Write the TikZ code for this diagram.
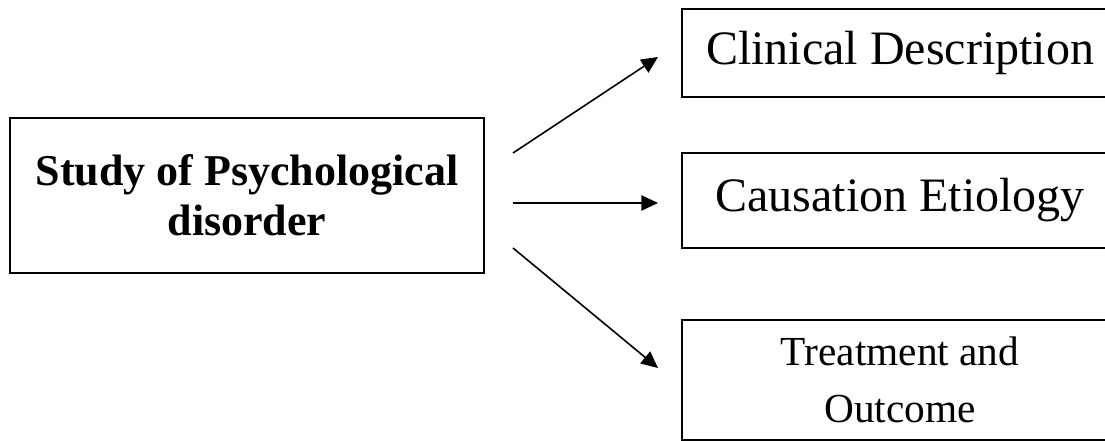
\documentclass[tikz,border=0pt]{standalone}
\usepackage{fontspec}
\setmainfont{Liberation Serif}
\usetikzlibrary{arrows.meta}
\begin{document}
\begin{tikzpicture}[x=0.75pt,y=-0.75pt,
  box/.style={draw=black,line width=1.2pt,inner sep=0pt,align=center,rectangle},
  conn/.style={line width=1.2pt,-{Triangle[length=12.5pt,width=11.5pt]}}]
\useasboundingbox (0,0) rectangle (1105,441);
\clip (0,0) rectangle (1105,441);
\node[box,minimum width=355.5pt,minimum height=116.25pt,font=\fontsize{33}{37.5}\selectfont\bfseries] (study) at (247,195.5) {Study of Psychological\\disorder};
\node[box,minimum width=327pt,minimum height=66pt,font=\fontsize{36}{40}\selectfont] (clin) at (900,53) {Clinical Description};
\node[box,minimum width=327pt,minimum height=71.25pt,font=\fontsize{36}{40}\selectfont] (caus) at (900,200.5) {Causation Etiology};
\node[box,minimum width=327pt,minimum height=90pt,font=\fontsize{31}{43}\selectfont] (treat) at (900,380) {Treatment and\\Outcome};
\coordinate (s1) at (513,153);
\coordinate (s2) at (513,203);
\coordinate (s3) at (513,248);
\coordinate (e1) at (658,57);
\coordinate (e2) at (658,203);
\coordinate (e3) at (658,368);
\draw[conn] (s1) -- (e1);
\draw[conn] (s2) -- (e2);
\draw[conn] (s3) -- (e3);
\end{tikzpicture}
\end{document}
